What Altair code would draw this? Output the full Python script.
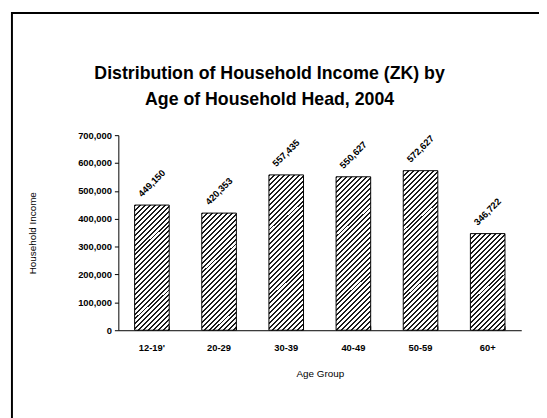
import altair as alt
import pandas as pd

age_groups = ["12-19'", "20-29", "30-39", "40-49", "50-59", "60+"]
income = [449150, 420353, 557435, 550627, 572627, 346722]
label_text = ["449,150", "420,353", "557,435", "550,627", "572,627", "346,722"]

df = pd.DataFrame({"age": age_groups, "income": income, "label": label_text})

W, H = 409, 198
YMAX = 700000
FONT = "Liberation Sans, Arial, sans-serif"

x_enc = alt.X("age:N", sort=age_groups,
              scale=alt.Scale(paddingInner=0.485, paddingOuter=0.2425),
              axis=alt.Axis(title="Age Group", labelAngle=0, ticks=False,
                            labelPadding=13, titleY=44, titleBaseline="middle"))
y_enc = alt.Y("income:Q", scale=alt.Scale(domain=[0, YMAX], nice=False),
              axis=alt.Axis(title="Household Income", values=list(range(0, 700001, 100000)),
                            format=",.0f", grid=False, tickSize=4, labelPadding=3,
                            labelOverlap=False,
                            titleX=-87, titleY=H / 2, titleBaseline="middle"))


def hatch(value, bar_w=35.0, period=5.0, dark=0.4):
    h = value / YMAX * H
    s = (bar_w + h) / (bar_w ** 2 + h ** 2)
    n = (bar_w + h) / period
    stops = []
    k = 0
    while k < n:
        a = k / n
        b = min((k + dark) / n, 1.0)
        c = min((k + 1) / n, 1.0)
        stops += [alt.GradientStop(offset=a, color="#1a1a1a"),
                  alt.GradientStop(offset=b, color="#1a1a1a"),
                  alt.GradientStop(offset=b, color="#ffffff"),
                  alt.GradientStop(offset=c, color="#ffffff")]
        k += 1
    return alt.LinearGradient(gradient="linear", stops=stops,
                              x1=0, y1=0, x2=s * bar_w, y2=s * h)


base = alt.Chart(df)
layers = []
for cat, val in zip(age_groups, income):
    layers.append(
        base.transform_filter(alt.datum.age == cat)
        .mark_bar(color=hatch(val), stroke="#000000", strokeWidth=1)
        .encode(x=x_enc, y=y_enc)
    )

labels = base.mark_text(angle=315, align="center", baseline="middle", yOffset=-22,
                        font=FONT, fontWeight="bold", fontSize=9.5, color="#000000").encode(
    x=x_enc, y=y_enc, text="label:N")

ticks = base.mark_rule(color="#000000", strokeWidth=1).encode(
    x=alt.X("age:N", sort=age_groups, bandPosition=1),
    y=alt.value(H), y2=alt.value(H - 4))

frame = alt.Chart(alt.Data(values=[{"a": 1}])).mark_rect(
    fill=None, stroke="#000000", strokeWidth=2).encode(
    x=alt.value(-108), y=alt.value(-124), x2=alt.value(W + 60), y2=alt.value(H + 120))

chart = alt.layer(*layers, labels, ticks, frame).properties(
    width=W, height=H,
    title=alt.TitleParams(text=["Distribution of Household Income (ZK) by",
                                "Age of Household Head, 2004"],
                          anchor="middle", dx=-51, offset=-98, fontSize=18,
                          font=FONT, fontWeight="bold",
                          lineHeight=26, color="#000000"),
    autosize=alt.AutoSizeParams(type="none"),
    padding={"left": 112, "top": 126, "right": 18, "bottom": 86},
).configure_view(stroke=None).configure_axis(
    domainColor="#000000", tickColor="#000000", labelColor="#000000", titleColor="#000000",
    labelFont=FONT, labelFontWeight="bold", labelFontSize=9.5,
    titleFont=FONT, titleFontWeight="normal", titleFontSize=10,
)

chart.save("out.html", embed_options={"renderer": "svg", "actions": False})
